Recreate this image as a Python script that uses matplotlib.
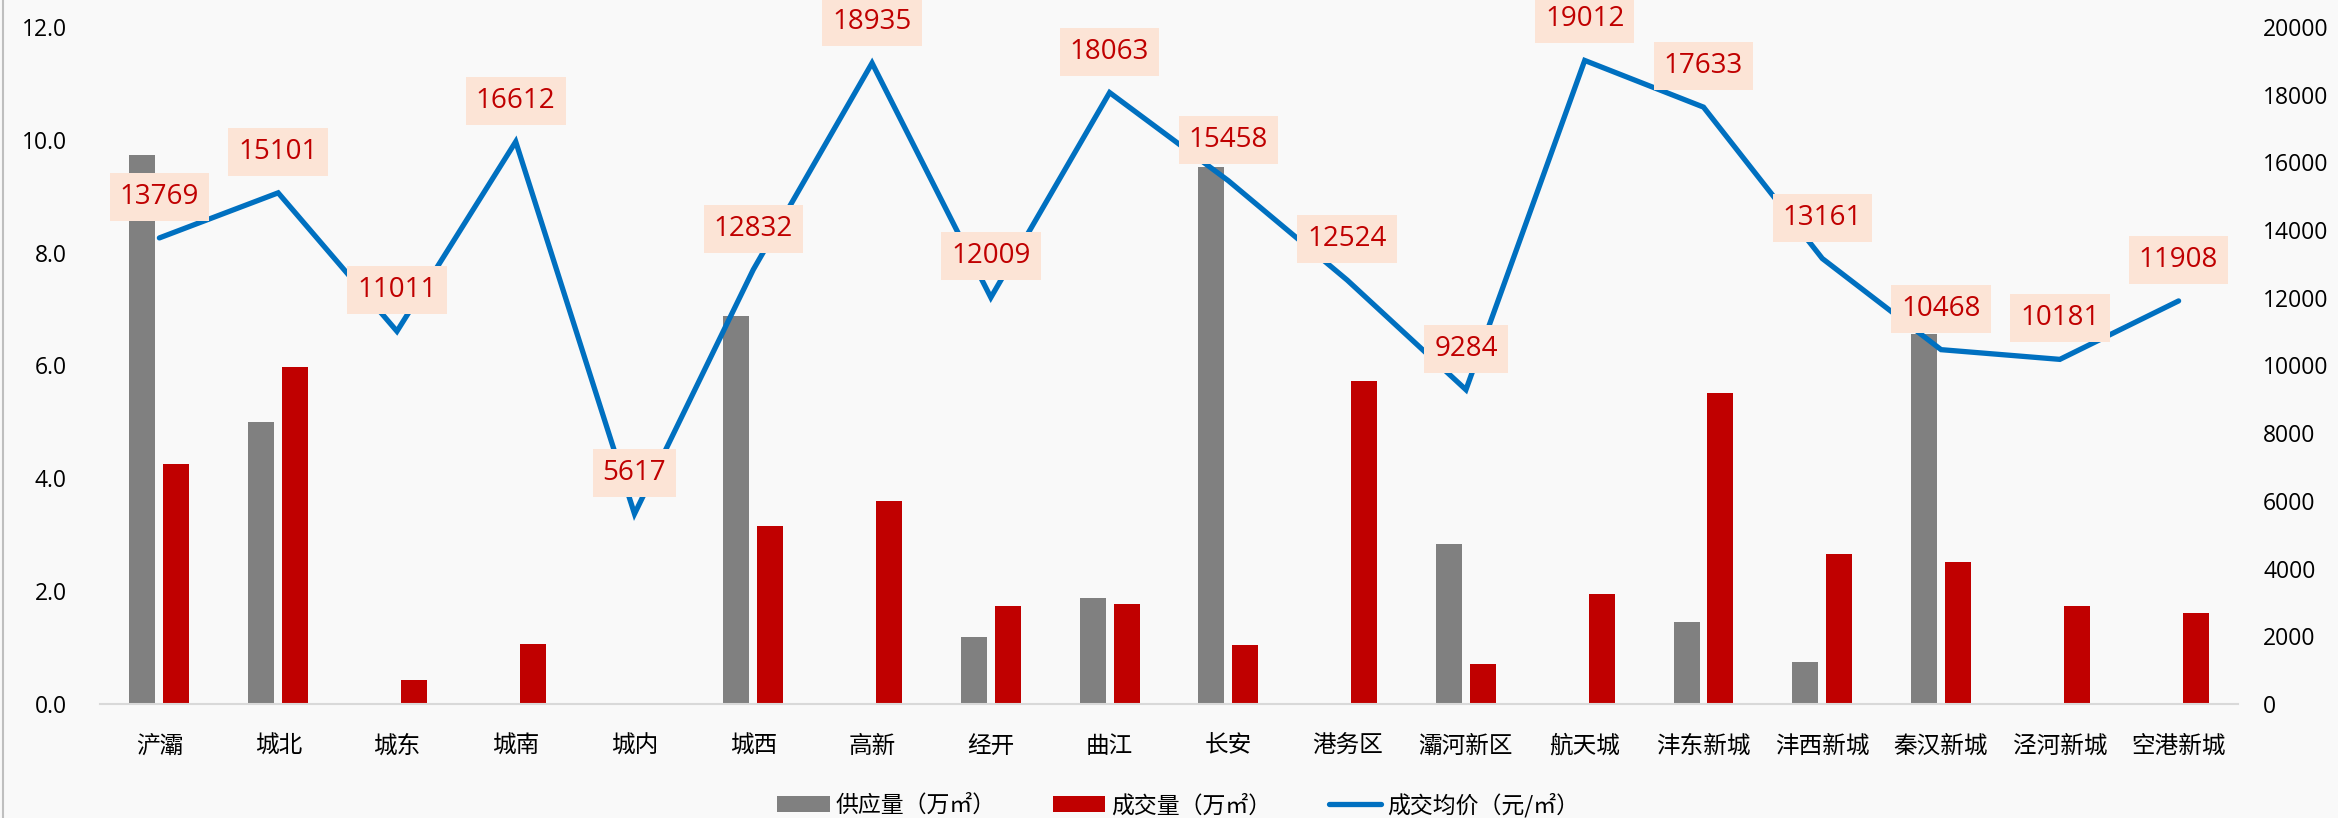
import matplotlib
matplotlib.use("Agg")
import matplotlib.pyplot as plt
from matplotlib.lines import Line2D
import numpy as np

plt.rcParams['font.family'] = ['Noto Sans CJK SC', 'DejaVu Sans']

categories = ["浐灞", "城北", "城东", "城南", "城内", "城西", "高新", "经开", "曲江", "长安",
              "港务区", "灞河新区", "航天城", "沣东新城", "沣西新城", "秦汉新城", "泾河新城", "空港新城"]
supply = [9.73, 5.0, 0, 0, 0, 6.88, 0, 1.18, 1.88, 9.52, 0, 2.83, 0, 1.45, 0.74, 6.55, 0, 0]
deal = [4.26, 5.98, 0.43, 1.07, 0, 3.15, 3.6, 1.73, 1.77, 1.05, 5.72, 0.71, 1.95, 5.52, 2.65, 2.52, 1.73, 1.62]
price = [13769, 15101, 11011, 16612, 5617, 12832, 18935, 12009, 18063, 15458,
         12524, 9284, 19012, 17633, 13161, 10468, 10181, 11908]
left_ticks = [0, 2, 4, 6, 8, 10, 12]
right_ticks = [0, 2000, 4000, 6000, 8000, 10000, 12000, 14000, 16000, 18000, 20000]

W, H = 2338, 818
fig = plt.figure(figsize=(W / 100, H / 100), dpi=100, facecolor='#F9F9F9')
ax = fig.add_axes([100 / W, 1 - 704 / H, (2238 - 100) / W, (704 - 27) / H])
ax.set_facecolor('#F9F9F9')

x = np.arange(len(categories))
bw = 0.219
off = 0.143
ax.bar(x - off, supply, bw, color='#808080', label='供应量（万㎡）', zorder=2)
ax.bar(x + off, deal, bw, color='#C00000', label='成交量（万㎡）', zorder=2)
ax.set_xlim(-0.5, len(categories) - 0.5)
ax.set_ylim(0, 12)
ax.set_yticks(left_ticks)
ax.set_yticklabels([f"{v:.1f}" for v in left_ticks], fontfamily='Open Sans', fontsize=16.5)
ax.set_xticks(x)
ax.set_xticklabels(categories, fontsize=17)
ax.tick_params(axis='x', length=0, pad=22)
ax.tick_params(axis='y', length=0, pad=24)
for s in ['top', 'right', 'left']:
    ax.spines[s].set_visible(False)
ax.spines['bottom'].set_color('#D9D9D9')
ax.spines['bottom'].set_linewidth(1.5)

ax2 = ax.twinx()
ax2.set_ylim(0, 20000)
ax2.set_yticks(right_ticks)
ax2.set_yticklabels([str(v) for v in right_ticks], fontfamily='Open Sans', fontsize=16.5)
ax2.tick_params(axis='y', length=0, pad=18)
for s in ['top', 'right', 'left', 'bottom']:
    ax2.spines[s].set_visible(False)
ln, = ax2.plot(x, price, color='#0070C0', linewidth=3.8, solid_capstyle='round',
               solid_joinstyle='miter', label='成交均价（元/㎡）', zorder=3)
for xi, p in zip(x, price):
    ax2.annotate(str(p), (xi, p), xytext=(0, 41), textcoords='offset pixels',
                 ha='center', va='center', fontsize=20, fontfamily='Open Sans',
                 color='#C00000', zorder=5, annotation_clip=False,
                 bbox=dict(boxstyle='square,pad=0.36', facecolor='#FCE4D6', edgecolor='none'))

h1, l1 = ax.get_legend_handles_labels()
handles = h1 + [ln]
labels = l1 + [ln.get_label()]
fig.legend(handles, labels, loc='center', bbox_to_anchor=(1178 / W, 1 - 805 / H),
           ncol=3, frameon=False, fontsize=16.5, handlelength=2.3, handletextpad=0.25,
           columnspacing=2.5)

fig.add_artist(Line2D([2.5 / W, 2.5 / W], [0, 1], color='#BFBFBF', linewidth=1.5,
                      transform=fig.transFigure))

fig.savefig('out.png', dpi=100, facecolor=fig.get_facecolor())
